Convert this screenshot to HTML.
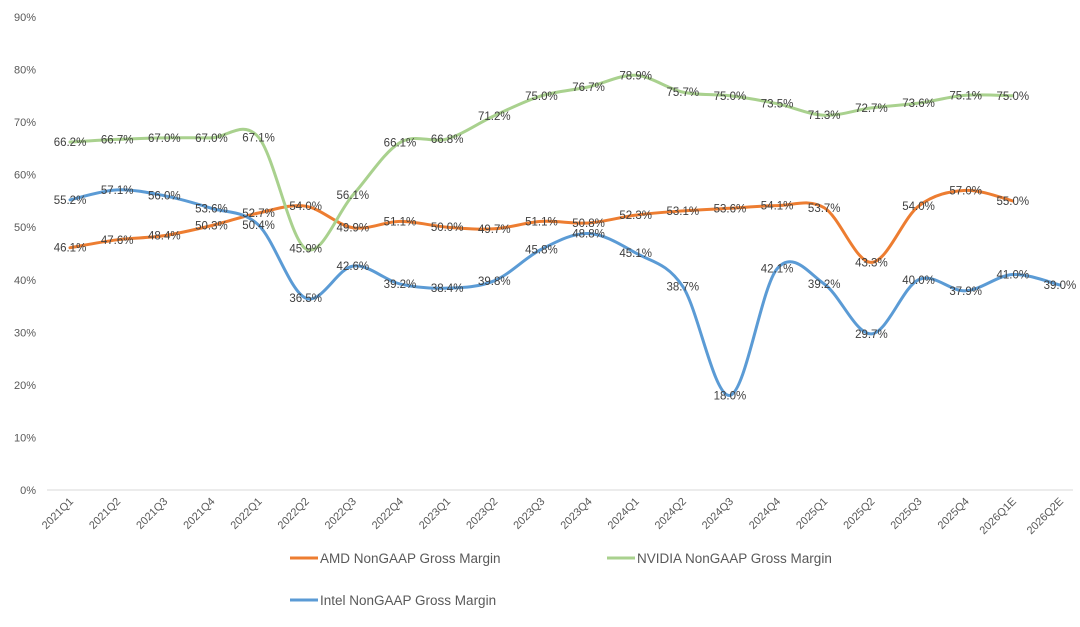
<!DOCTYPE html>
<html><head><meta charset="utf-8">
<style>
body{margin:0;background:#fff;width:1080px;height:622px;overflow:hidden;font-family:"Liberation Sans",sans-serif}
svg text{font-family:"Liberation Sans","DejaVu Sans",sans-serif}
</style></head>
<body>
<svg id="chart" width="1080" height="622" xmlns="http://www.w3.org/2000/svg"></svg>
<script>
const categories=["2021Q1","2021Q2","2021Q3","2021Q4","2022Q1","2022Q2","2022Q3","2022Q4","2023Q1","2023Q2","2023Q3","2023Q4","2024Q1","2024Q2","2024Q3","2024Q4","2025Q1","2025Q2","2025Q3","2025Q4","2026Q1E","2026Q2E"];
const amdValues=[46.1,47.6,48.4,50.3,52.7,54.0,49.9,51.1,50.0,49.7,51.1,50.8,52.3,53.1,53.6,54.1,53.7,43.3,54.0,57.0,55.0];
const nvidiaValues=[66.2,66.7,67.0,67.0,67.1,45.9,56.1,66.1,66.8,71.2,75.0,76.7,78.9,75.7,75.0,73.5,71.3,72.7,73.6,75.1,75.0];
const intelValues=[55.2,57.1,56.0,53.6,50.4,36.5,42.6,39.2,38.4,39.8,45.8,48.8,45.1,38.7,18.0,42.1,39.2,29.7,40.0,37.9,41.0,39.0];
const yTicks=[0,10,20,30,40,50,60,70,80,90];
const seriesNames=["AMD NonGAAP Gross Margin","NVIDIA NonGAAP Gross Margin","Intel NonGAAP Gross Margin"];

const NS="http://www.w3.org/2000/svg";
const svg=document.getElementById('chart');
const x=i=>70+i*47.14;
const y=v=>490-v*5.256;
function mk(t,a,p){const e=document.createElementNS(NS,t);for(const k in a)e.setAttribute(k,a[k]);(p||svg).appendChild(e);return e;}

yTicks.forEach(t=>{
  const e=mk('text',{x:36,y:y(t)+4,'text-anchor':'end','font-size':11,fill:'#595959'});
  
  
  e.textContent=t+'%';
});
const ax=mk('line',{x1:47,x2:1073,y1:y(0),y2:y(0),stroke:'#d9d9d9','stroke-width':1});


categories.forEach((c,i)=>{
  const e=mk('text',{x:x(i)+4,y:502,'text-anchor':'end','font-size':11,fill:'#595959',transform:`rotate(-45 ${x(i)+4} 502)`});
  
  
  e.textContent=c;
});
function path(vals){
  const p=vals.map((v,i)=>[x(i),y(v)]);
  let d=`M${p[0][0]},${p[0][1]}`;
  for(let i=0;i<p.length-1;i++){
    const p0=p[i-1]||p[i],p1=p[i],p2=p[i+1],p3=p[i+2]||p2;
    const t=0.5/3;
    d+=` C${p1[0]+(p2[0]-p0[0])*t},${p1[1]+(p2[1]-p0[1])*t} ${p2[0]-(p3[0]-p1[0])*t},${p2[1]-(p3[1]-p1[1])*t} ${p2[0]},${p2[1]}`;
  }
  return d;
}
const series=[[amdValues,'#ED7D31','amd'],[nvidiaValues,'#A9D18E','nvidia'],[intelValues,'#5B9BD5','intel']];
series.forEach(([vals,col,n])=>{
  const l=mk('path',{d:path(vals),fill:'none',stroke:col,'stroke-width':3,'stroke-linecap':'round'});
  
  
});
series.forEach(([vals,col,n])=>{
  vals.forEach((v,i)=>{
    const e=mk('text',{x:x(i),y:y(v)+4,'text-anchor':'middle','font-size':11.5,fill:'#404040'});
    
    
    e.textContent=v.toFixed(1)+'%';
  });
});
const leg=[[290,558,0,'#ED7D31'],[607,558,1,'#A9D18E'],[290,600,2,'#5B9BD5']];
leg.forEach(([lx,ly,k,col])=>{
  const g=mk('g',{});
  
  
  mk('line',{x1:lx,x2:lx+28,y1:ly,y2:ly,stroke:col,'stroke-width':3},g);
  const t=mk('text',{x:lx+30,y:ly+5,'font-size':13.5,fill:'#595959'},g);
  t.textContent=seriesNames[k];
});
</script>
</body></html>
